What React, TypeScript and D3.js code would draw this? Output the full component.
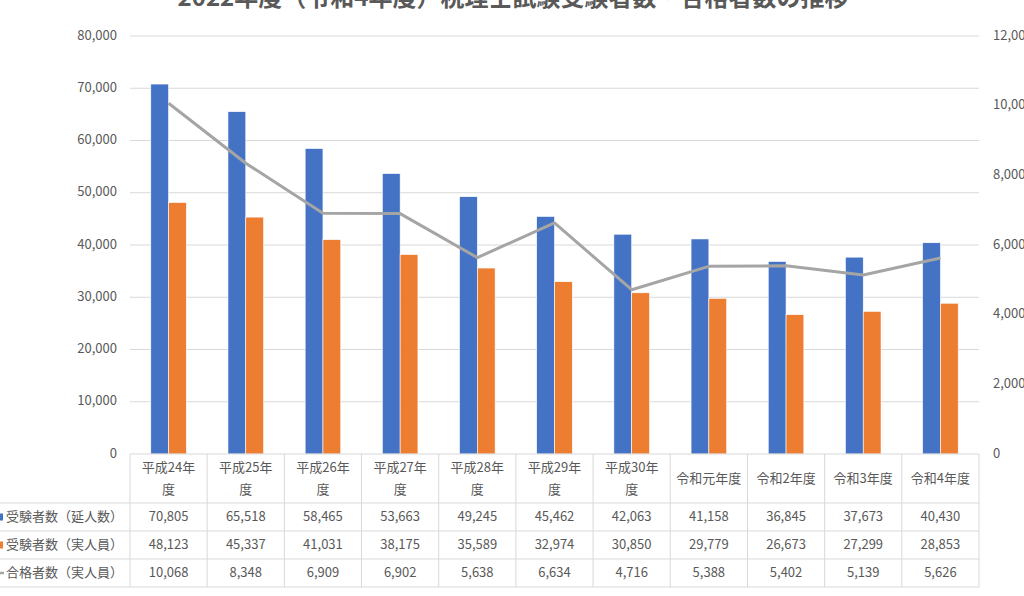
import React from "react";
import * as d3 from "d3";

const title = "2022年度（令和4年度）税理士試験受験者数・合格者数の推移";

const categories = [
  "平成24年度",
  "平成25年度",
  "平成26年度",
  "平成27年度",
  "平成28年度",
  "平成29年度",
  "平成30年度",
  "令和元年度",
  "令和2年度",
  "令和3年度",
  "令和4年度",
];

const totalExaminees = [70805, 65518, 58465, 53663, 49245, 45462, 42063, 41158, 36845, 37673, 40430];
const actualExaminees = [48123, 45337, 41031, 38175, 35589, 32974, 30850, 29779, 26673, 27299, 28853];
const passers = [10068, 8348, 6909, 6902, 5638, 6634, 4716, 5388, 5402, 5139, 5626];

const seriesNames = ["受験者数（延人数）", "受験者数（実人員）", "合格者数（実人員）"];
const leftTicks = [0, 10000, 20000, 30000, 40000, 50000, 60000, 70000, 80000];
const rightTicks = [0, 2000, 4000, 6000, 8000, 10000, 12000];

const BLUE = "#4472C4";
const ORANGE = "#ED7D31";
const GRAY = "#A5A5A5";
const TEXT = "#595959";
const GRID = "#D9D9D9";
const FONT = "'Noto Sans CJK JP', 'Noto Sans', sans-serif";

const W = 1024;
const H = 596;
const plotLeft = 130;
const plotRight = 979;
const plotTop = 36;
const plotBottom = 454;
const rowLines = [503, 531, 559, 587];

const fmt = d3.format(",");

const App: React.FC = () => {
  const x = d3.scaleBand<string>().domain(categories).range([plotLeft, plotRight]).padding(0);
  const bw = x.bandwidth();
  const barW = 17.8;
  const yLeft = d3.scaleLinear().domain([0, 80000]).range([plotBottom, plotTop]);
  const yRight = d3.scaleLinear().domain([0, 12000]).range([plotBottom, plotTop]);
  const cx = (c: string) => (x(c) ?? 0) + bw / 2;

  const line = d3
    .line<number>()
    .x((_, i) => cx(categories[i]))
    .y((d) => yRight(d));

  const rows = [totalExaminees, actualExaminees, passers];
  const rowCenters = rowLines.slice(0, 3).map((y, i) => (y + rowLines[i + 1]) / 2);

  const headerLines = (label: string) =>
    label.length > 5 ? [label.slice(0, -1), label.slice(-1)] : [label];

  return (
    <svg
      width={W}
      height={H}
      style={{ position: "absolute", left: 0, top: 0, background: "#fff" }}
      fontFamily={FONT}
    >
      {/* title (cropped at top) */}
      <text x={513} y={6} textAnchor="middle" fontSize={24} fontWeight="bold" fill={TEXT}>
        {title}
      </text>

      {/* gridlines */}
      {leftTicks.slice(1).map((t) => (
        <line key={t} x1={plotLeft} x2={plotRight} y1={yLeft(t)} y2={yLeft(t)} stroke={GRID} strokeWidth={1} />
      ))}

      {/* left axis */}
      {leftTicks.map((t) => (
        <text key={t} x={117} y={yLeft(t)} textAnchor="end" dominantBaseline="middle" fontSize={13} fill={TEXT}>
          {fmt(t)}
        </text>
      ))}

      {/* right axis */}
      {rightTicks.map((t) => (
        <text key={t} x={993} y={yRight(t)} textAnchor="start" dominantBaseline="middle" fontSize={13} fill={TEXT}>
          {fmt(t)}
        </text>
      ))}

      {/* bars */}
      {categories.map((c, i) => (
        <g key={c}>
          <rect
            x={cx(c) - barW}
            y={yLeft(totalExaminees[i])}
            width={barW}
            height={plotBottom - yLeft(totalExaminees[i])}
            fill={BLUE}
            stroke="#fff"
            strokeWidth={0.6}
          />
          <rect
            x={cx(c)}
            y={yLeft(actualExaminees[i])}
            width={barW}
            height={plotBottom - yLeft(actualExaminees[i])}
            fill={ORANGE}
            stroke="#fff"
            strokeWidth={0.6}
          />
        </g>
      ))}

      {/* passers line */}
      <path d={line(passers) ?? ""} fill="none" stroke={GRAY} strokeWidth={3} strokeLinejoin="round" />

      {/* data table */}
      <line x1={plotLeft} x2={plotRight} y1={plotBottom} y2={plotBottom} stroke={GRID} />
      {rowLines.map((y) => (
        <line key={y} x1={0} x2={plotRight} y1={y} y2={y} stroke={GRID} />
      ))}
      {[...categories.map((c) => x(c) ?? 0), plotRight].map((vx, i) => (
        <line key={i} x1={vx} x2={vx} y1={plotBottom} y2={rowLines[3]} stroke={GRID} />
      ))}

      {/* header */}
      {categories.map((c) => {
        const lines = headerLines(c);
        return (
          <text key={c} textAnchor="middle" fontSize={13} fill={TEXT}>
            {lines.length === 1 ? (
              <tspan x={cx(c)} y={479} dominantBaseline="middle">
                {lines[0]}
              </tspan>
            ) : (
              lines.map((l, j) => (
                <tspan key={j} x={cx(c)} y={468 + j * 22} dominantBaseline="middle">
                  {l}
                </tspan>
              ))
            )}
          </text>
        );
      })}

      {/* table values */}
      {rows.map((vals, r) =>
        vals.map((v, i) => (
          <text
            key={`${r}-${i}`}
            x={cx(categories[i])}
            y={rowCenters[r]}
            textAnchor="middle"
            dominantBaseline="middle"
            fontSize={13}
            fill={TEXT}
          >
            {fmt(v)}
          </text>
        ))
      )}

      {/* legend keys + series names */}
      <rect x={-4} y={rowCenters[0] - 3.5} width={7} height={7} fill={BLUE} />
      <rect x={-4} y={rowCenters[1] - 3.5} width={7} height={7} fill={ORANGE} />
      <line x1={-6} x2={4} y1={rowCenters[2]} y2={rowCenters[2]} stroke={GRAY} strokeWidth={2.5} />
      {seriesNames.map((s, r) => (
        <text key={s} x={6} y={rowCenters[r]} dominantBaseline="middle" fontSize={13} fill={TEXT}>
          {s}
        </text>
      ))}
    </svg>
  );
};

export default App;
